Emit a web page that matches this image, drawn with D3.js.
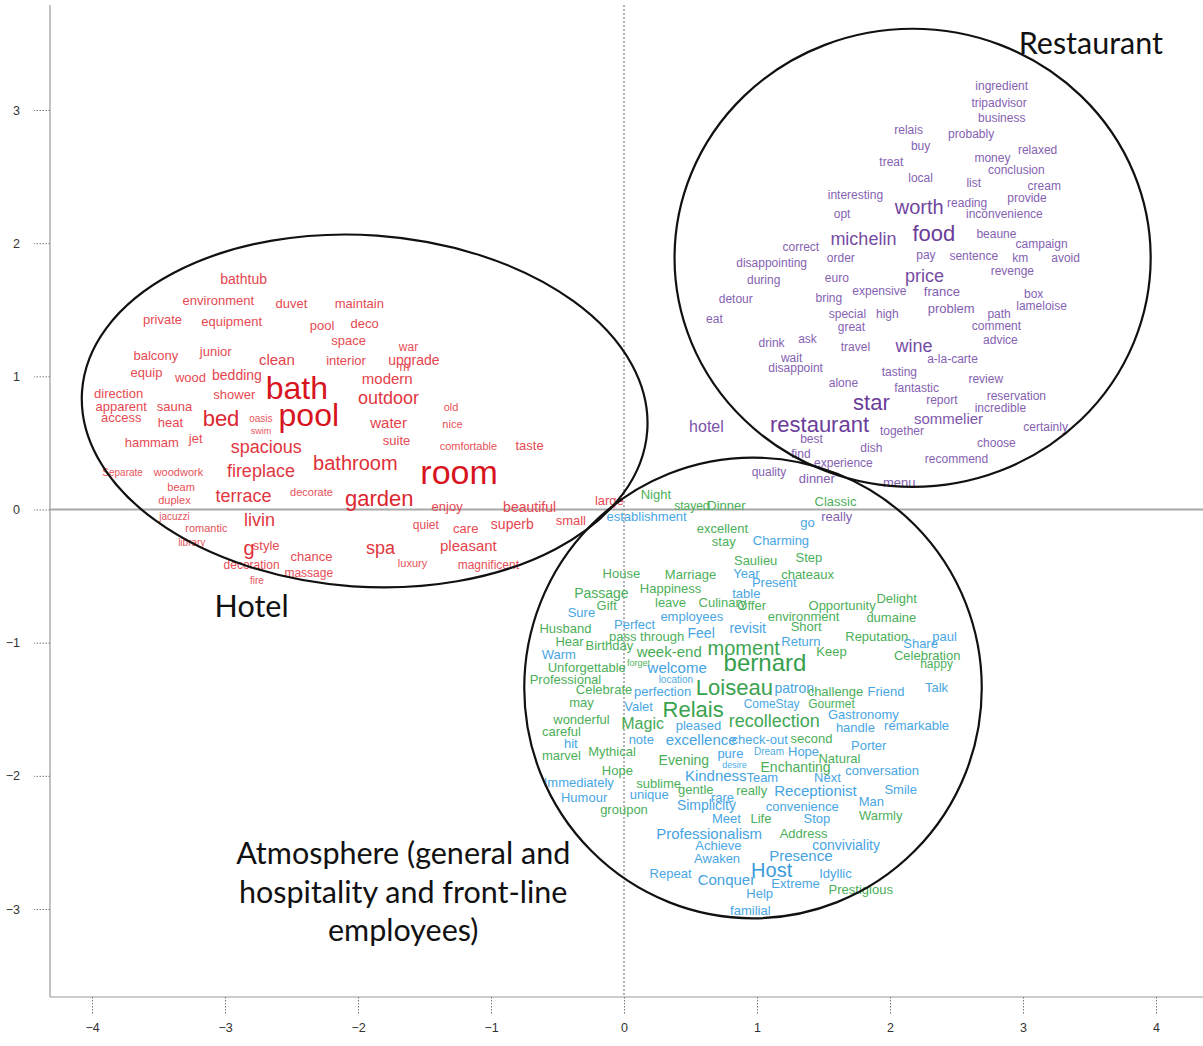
<!DOCTYPE html>
<html>
<head>
<meta charset="utf-8">
<script src="https://cdn.jsdelivr.net/npm/d3@7"></script>
<style>
  html, body { margin: 0; padding: 0; background: #fff; }
  svg { display: block; }
</style>
</head>
<body>
<svg id="chart" width="1203" height="1046"></svg>
<script>
// ---------------- DATA ----------------
const xTicks = [-4, -3, -2, -1, 0, 1, 2, 3, 4];
const yTicks = [-3, -2, -1, 0, 1, 2, 3];

// [word, x, y, weight]
const hotelWords = [
  ["bathtub",-2.86,1.73,7],["environment",-3.05,1.57,6],["duvet",-2.50,1.55,6],["maintain",-1.99,1.55,6],
  ["private",-3.47,1.43,6],["equipment",-2.95,1.41,6],["pool",-2.27,1.38,6],["deco",-1.95,1.40,6],
  ["space",-2.07,1.27,6],["war",-1.62,1.22,5],["junior",-3.07,1.19,6],["balcony",-3.52,1.16,6],
  ["clean",-2.61,1.13,8],["interior",-2.09,1.12,6],["upgrade",-1.58,1.12,7],["m",-1.65,1.07,5],
  ["modern",-1.78,0.98,8],["equip",-3.59,1.03,6],["wood",-3.26,0.99,6],["bedding",-2.91,1.01,7],
  ["bath",-2.46,0.91,25],["direction",-3.80,0.87,6],["shower",-2.93,0.86,6],["outdoor",-1.77,0.84,11],
  ["apparent",-3.78,0.77,6],["sauna",-3.38,0.77,6],["old",-1.30,0.77,4],["access",-3.78,0.69,6],
  ["heat",-3.41,0.65,6],["bed",-3.03,0.68,15],["oasis",-2.73,0.68,3],["swim",-2.73,0.59,2],
  ["pool",-2.37,0.71,25],["water",-1.77,0.65,8],["nice",-1.29,0.64,4],["hammam",-3.55,0.50,6],
  ["jet",-3.22,0.53,6],["spacious",-2.69,0.47,11],["suite",-1.71,0.52,6],["comfortable",-1.17,0.48,4],
  ["taste",-0.71,0.48,6],["Separate",-3.77,0.28,3],["woodwork",-3.35,0.28,4],["fireplace",-2.73,0.29,11],
  ["bathroom",-2.02,0.35,13],["room",-1.24,0.28,27],["beam",-3.33,0.17,4],["duplex",-3.38,0.07,4],
  ["terrace",-2.86,0.10,11],["decorate",-2.35,0.13,4],["garden",-1.84,0.08,15],["enjoy",-1.33,0.02,6],
  ["beautiful",-0.71,0.02,7],["large",-0.11,0.07,6],["jacuzzi",-3.38,-0.05,3],["livin",-2.74,-0.08,11],
  ["romantic",-3.14,-0.14,4],["quiet",-1.49,-0.12,5],["care",-1.19,-0.14,6],["superb",-0.84,-0.11,7],
  ["small",-0.40,-0.08,6],["library",-3.25,-0.25,3],["g",-2.82,-0.29,13],["style",-2.69,-0.27,6],
  ["chance",-2.35,-0.35,6],["spa",-1.83,-0.29,11],["pleasant",-1.17,-0.27,8],["luxury",-1.59,-0.40,4],
  ["decoration",-2.80,-0.42,5],["massage",-2.37,-0.48,5],["magnificent",-1.02,-0.42,5],["fire",-2.76,-0.53,3]
];

const restaurantWords = [
  ["ingredient",2.84,3.18,5],["tripadvisor",2.82,3.05,5],["business",2.84,2.94,5],["relais",2.14,2.85,5],
  ["probably",2.61,2.82,5],["buy",2.23,2.73,5],["money",2.77,2.64,5],["relaxed",3.11,2.70,5],
  ["treat",2.01,2.61,5],["conclusion",2.95,2.55,5],["local",2.23,2.49,5],["list",2.63,2.45,5],
  ["cream",3.16,2.43,5],["interesting",1.74,2.36,5],["worth",2.22,2.27,13],["reading",2.58,2.30,5],
  ["provide",3.03,2.34,5],["inconvenience",2.86,2.22,5],["opt",1.64,2.22,5],["michelin",1.80,2.03,11],
  ["food",2.33,2.07,15],["beaune",2.80,2.07,5],["correct",1.33,1.97,5],["campaign",3.14,1.99,5],
  ["order",1.63,1.89,5],["disappointing",1.11,1.85,5],["pay",2.27,1.91,5],["sentence",2.63,1.90,5],
  ["km",2.98,1.89,5],["avoid",3.32,1.89,5],["revenge",2.92,1.79,5],["price",2.26,1.75,11],
  ["euro",1.60,1.74,5],["during",1.05,1.72,5],["expensive",1.92,1.64,5],["france",2.39,1.64,6],
  ["box",3.08,1.62,5],["detour",0.84,1.58,5],["bring",1.54,1.59,5],["lameloise",3.14,1.53,5],
  ["problem",2.46,1.51,6],["special",1.68,1.47,5],["high",1.98,1.47,5],["path",2.82,1.47,5],
  ["eat",0.68,1.43,5],["comment",2.80,1.38,5],["great",1.71,1.37,5],["ask",1.38,1.28,5],
  ["drink",1.11,1.25,5],["advice",2.83,1.27,5],["travel",1.74,1.22,5],["wine",2.18,1.23,11],
  ["wait",1.26,1.14,5],["a-la-carte",2.47,1.13,5],["disappoint",1.29,1.06,5],["tasting",2.07,1.03,5],
  ["alone",1.65,0.95,5],["review",2.72,0.98,5],["fantastic",2.20,0.91,5],["star",1.86,0.80,15],
  ["reservation",2.95,0.85,5],["report",2.39,0.82,5],["incredible",2.83,0.76,5],["hotel",0.62,0.62,9],
  ["restaurant",1.47,0.64,15],["sommelier",2.44,0.68,8],["together",2.09,0.59,5],["certainly",3.17,0.62,5],
  ["best",1.41,0.53,5],["choose",2.80,0.50,5],["dish",1.86,0.46,5],["find",1.33,0.42,5],
  ["recommend",2.50,0.38,5],["experience",1.65,0.35,5],["quality",1.09,0.28,5],["dinner",1.45,0.23,6],
  ["menu",2.07,0.20,6],["really",1.60,-0.05,6]
];

// [word, x, y, weight, group]  g = general atmosphere, b = hospitality / front-line employees
const atmosphereWords = [
  ["Night",0.24,0.11,6,"g"],["stayed",0.51,0.03,5,"g"],["Dinner",0.77,0.03,6,"g"],["Classic",1.59,0.06,6,"g"],
  ["establishment",0.17,-0.05,6,"b"],["go",1.38,-0.10,6,"b"],["excellent",0.74,-0.14,6,"g"],["Charming",1.18,-0.23,6,"b"],
  ["stay",0.75,-0.24,6,"g"],["Saulieu",0.99,-0.38,6,"g"],["Step",1.39,-0.36,6,"g"],["House",-0.02,-0.48,6,"g"],
  ["Marriage",0.50,-0.49,6,"g"],["Year",0.92,-0.48,6,"b"],["chateaux",1.38,-0.49,6,"g"],["Happiness",0.35,-0.59,6,"g"],
  ["Present",1.13,-0.55,6,"b"],["table",0.92,-0.63,6,"b"],["Passage",-0.17,-0.63,7,"g"],["leave",0.35,-0.70,6,"g"],
  ["Culinary",0.74,-0.70,6,"g"],["Gift",-0.13,-0.72,6,"g"],["Offer",0.96,-0.72,6,"g"],["Opportunity",1.64,-0.72,6,"g"],
  ["Delight",2.05,-0.67,6,"g"],["Sure",-0.32,-0.77,6,"b"],["employees",0.51,-0.80,6,"b"],["environment",1.35,-0.80,6,"g"],
  ["dumaine",2.01,-0.81,6,"g"],["Perfect",0.08,-0.86,6,"b"],["Short",1.37,-0.88,6,"g"],["Husband",-0.44,-0.89,6,"g"],
  ["revisit",0.93,-0.89,7,"b"],["pass through",0.17,-0.95,6,"g"],["Feel",0.58,-0.93,7,"b"],["Hear",-0.41,-0.99,6,"g"],
  ["Return",1.33,-0.99,6,"b"],["Reputation",1.90,-0.95,6,"g"],["paul",2.41,-0.95,6,"b"],["Birthday",-0.11,-1.02,6,"g"],
  ["Share",2.23,-1.01,6,"b"],["week-end",0.34,-1.07,8,"g"],["moment",0.90,-1.04,13,"g"],["Keep",1.56,-1.07,6,"g"],
  ["Celebration",2.28,-1.10,6,"g"],["Warm",-0.49,-1.09,6,"b"],["bernard",1.06,-1.15,17,"g"],["happy",2.35,-1.16,5,"g"],
  ["forget",0.11,-1.15,2,"g"],["welcome",0.40,-1.19,8,"b"],["Unforgettable",-0.28,-1.19,6,"g"],["Professional",-0.44,-1.28,6,"g"],
  ["location",0.39,-1.28,3,"b"],["patron",1.28,-1.34,7,"b"],["Loiseau",0.83,-1.34,15,"g"],["Celebrate",-0.15,-1.35,6,"g"],
  ["perfection",0.29,-1.37,6,"b"],["challenge",1.59,-1.37,6,"g"],["Friend",1.97,-1.37,6,"b"],["Talk",2.35,-1.34,6,"b"],
  ["may",-0.32,-1.45,6,"g"],["Come",1.02,-1.46,5,"b"],["Stay",1.23,-1.46,5,"b"],["Gourmet",1.56,-1.46,5,"g"],
  ["Valet",0.11,-1.48,6,"b"],["Relais",0.52,-1.50,15,"g"],["Gastronomy",1.80,-1.54,6,"b"],["recollection",1.13,-1.59,11,"g"],
  ["wonderful",-0.32,-1.58,6,"g"],["Magic",0.14,-1.61,9,"g"],["pleased",0.56,-1.62,6,"b"],["handle",1.74,-1.64,6,"b"],
  ["remarkable",2.20,-1.62,6,"b"],["careful",-0.47,-1.67,6,"g"],["note",0.13,-1.73,6,"b"],["excellence",0.58,-1.73,8,"b"],
  ["check-out",1.02,-1.73,6,"b"],["second",1.41,-1.72,6,"g"],["hit",-0.40,-1.76,6,"b"],["Porter",1.84,-1.77,6,"b"],
  ["Dream",1.09,-1.82,3,"b"],["Hope",1.35,-1.82,6,"b"],["marvel",-0.47,-1.85,6,"g"],["Mythical",-0.09,-1.82,6,"g"],
  ["pure",0.80,-1.83,6,"b"],["Natural",1.62,-1.87,6,"g"],["Evening",0.45,-1.88,7,"g"],["desire",0.83,-1.92,2,"b"],
  ["Enchanting",1.29,-1.93,7,"g"],["Hope",-0.05,-1.96,6,"g"],["conversation",1.94,-1.96,6,"b"],["Kindness",0.69,-2.00,8,"b"],
  ["Team",1.04,-2.01,6,"b"],["Next",1.53,-2.01,6,"b"],["Immediately",-0.34,-2.05,6,"b"],["sublime",0.26,-2.06,6,"g"],
  ["gentle",0.54,-2.10,6,"g"],["really",0.96,-2.11,6,"g"],["rare",0.74,-2.16,6,"b"],["Receptionist",1.44,-2.11,8,"b"],
  ["Smile",2.08,-2.10,6,"b"],["Humour",-0.30,-2.16,6,"b"],["unique",0.19,-2.14,6,"b"],["Man",1.86,-2.19,6,"b"],
  ["Simplicity",0.62,-2.22,7,"b"],["convenience",1.34,-2.23,6,"b"],["groupon",0.00,-2.25,6,"g"],["Warmly",1.93,-2.30,6,"g"],
  ["Life",1.03,-2.32,6,"g"],["Stop",1.45,-2.32,6,"b"],["Meet",0.77,-2.32,6,"b"],["Address",1.35,-2.43,6,"g"],
  ["Professionalism",0.64,-2.43,8,"b"],["Achieve",0.71,-2.52,6,"b"],["conviviality",1.67,-2.52,7,"b"],["Presence",1.33,-2.60,8,"b"],
  ["Awaken",0.70,-2.62,6,"b"],["Host",1.11,-2.71,13,"b"],["Idyllic",1.59,-2.73,6,"b"],["Repeat",0.35,-2.73,6,"b"],
  ["Conquer",0.77,-2.78,8,"b"],["Extreme",1.29,-2.81,6,"b"],["Prestigious",1.78,-2.85,6,"g"],["Help",1.02,-2.88,6,"b"],
  ["familial",0.95,-3.01,6,"b"]
];

// cluster ellipses in data units
const clusters = [
  { name: "hotel",       cx: -1.95, cy: 0.74,  rx: 2.13, ry: 1.32, tilt: 4 },
  { name: "restaurant",  cx: 2.17,  cy: 1.89,  rx: 1.79, ry: 1.72, tilt: 0 },
  { name: "atmosphere",  cx: 0.97,  cy: -1.34, rx: 1.72, ry: 1.73, tilt: 0 }
];

const groupLabels = [
  { text: "Restaurant", x: 3.51, y: 3.51 },
  { text: "Hotel", x: -2.80, y: -0.72 },
  { text: "Atmosphere (general and", x: -1.66, y: -2.57 },
  { text: "hospitality and front-line", x: -1.66, y: -2.865 },
  { text: "employees)", x: -1.66, y: -3.15 }
];

// ---------------- CHART ----------------
const svg = d3.select("#chart");
const plot = { left: 50, right: 1203, top: 5, bottom: 997 };

const x = d3.scaleLinear().domain([-4, 4]).range([92, 1156]);
const y = d3.scaleLinear().domain([-3, 3]).range([909, 110]);
const fontScale = d3.scaleLinear().domain([0, 30]).range([7, 37]);

// frame lines
svg.append("line").attr("x1", plot.left).attr("x2", plot.left).attr("y1", plot.top).attr("y2", plot.bottom)
  .attr("stroke", "#9a9a9a").attr("stroke-width", 1.2);
svg.append("line").attr("x1", plot.left).attr("x2", plot.right).attr("y1", plot.bottom).attr("y2", plot.bottom)
  .attr("stroke", "#9a9a9a").attr("stroke-width", 1.2);

// reference lines at 0
svg.append("line").attr("x1", plot.left).attr("x2", plot.right).attr("y1", y(0)).attr("y2", y(0))
  .attr("stroke", "#a8a8a8").attr("stroke-width", 2);
svg.append("line").attr("x1", x(0)).attr("x2", x(0)).attr("y1", plot.top).attr("y2", plot.bottom)
  .attr("stroke", "#8a8a8a").attr("stroke-width", 1.3).attr("stroke-dasharray", "2,2");

// axes (dotted ticks)
const xAxis = d3.axisBottom(x).tickValues(xTicks).tickSize(18).tickPadding(8).tickFormat(d3.format("d"));
const gx = svg.append("g").attr("transform", `translate(0,${plot.bottom})`).call(xAxis);
gx.select(".domain").remove();
gx.selectAll(".tick line").attr("stroke", "#777").attr("stroke-dasharray", "1.5,1.5");
gx.selectAll(".tick text").attr("font-family", "Liberation Sans, Arial, sans-serif").attr("font-size", 12.5).attr("fill", "#333");

const yAxis = d3.axisLeft(y).tickValues(yTicks).tickSize(16).tickPadding(14).tickFormat(d3.format("d"));
const gy = svg.append("g").attr("transform", `translate(${plot.left},0)`).call(yAxis);
gy.select(".domain").remove();
gy.selectAll(".tick line").attr("stroke", "#777").attr("stroke-dasharray", "1.5,1.5");
gy.selectAll(".tick text").attr("font-family", "Liberation Sans, Arial, sans-serif").attr("font-size", 12.5).attr("fill", "#333");

// word colours
const colorOf = {
  hotel: d3.interpolateRgb("#ec6068", "#d8141e"),
  restaurant: d3.interpolateRgb("#9274bf", "#5e2b8c"),
  g: d3.interpolateRgb("#58b860", "#2f9a48"),
  b: d3.interpolateRgb("#56b0e8", "#2b8fd6")
};
const tOf = d3.scaleLinear().domain([2, 20]).range([0.1, 1]).clamp(true);

function drawWords(data, keyFn) {
  svg.append("g").selectAll("text").data(data).join("text")
    .attr("x", d => x(d[1]))
    .attr("y", d => y(d[2]))
    .attr("text-anchor", "middle")
    .attr("dominant-baseline", "central")
    .attr("font-family", "Liberation Sans, Arial, sans-serif")
    .attr("font-size", d => fontScale(d[3]))
    .attr("fill", d => colorOf[keyFn(d)](tOf(d[3])))
    .text(d => d[0]);
}
drawWords(hotelWords, () => "hotel");
drawWords(restaurantWords, () => "restaurant");
drawWords(atmosphereWords, d => d[4]);

// ellipses
svg.append("g").selectAll("ellipse").data(clusters).join("ellipse")
  .attr("cx", d => x(d.cx))
  .attr("cy", d => y(d.cy))
  .attr("rx", d => x(d.cx + d.rx) - x(d.cx))
  .attr("ry", d => y(d.cy) - y(d.cy + d.ry))
  .attr("transform", d => `rotate(${d.tilt},${x(d.cx)},${y(d.cy)})`)
  .attr("fill", "none").attr("stroke", "#111").attr("stroke-width", 2.2);

// group labels
svg.append("g").selectAll("text").data(groupLabels).join("text")
  .attr("x", d => x(d.x))
  .attr("y", d => y(d.y))
  .attr("text-anchor", "middle")
  .attr("dominant-baseline", "central")
  .attr("font-family", "Lato, 'Open Sans', sans-serif")
  .attr("font-size", 30.5)
  .attr("fill", "#111")
  .text(d => d.text);
</script>
</body>
</html>
